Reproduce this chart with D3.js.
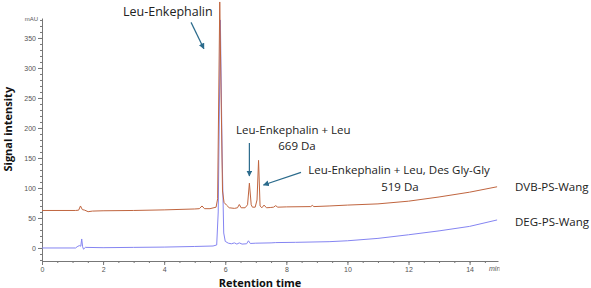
<!DOCTYPE html>
<html>
<head>
<meta charset="utf-8">
<script src="https://cdn.jsdelivr.net/npm/d3@7"></script>
<style>
  body { margin: 0; background: #fff; }
  svg { display: block; }
  .tick text { font-family: "Liberation Sans", Arial, sans-serif; font-size: 7px; fill: #555; }
  .axis path, .axis line { stroke: #777; }
  .ann { font-family: "Open Sans", sans-serif; font-size: 11.5px; fill: #222; }
  .title { font-family: "Open Sans", sans-serif; font-size: 11px; font-weight: bold; fill: #111; }
</style>
</head>
<body>
<div id="chart"></div>
<script>
// chromatogram traces (time in min, signal in mAU)
var dvbTime   = [0, 1.1, 1.2, 1.26, 1.32, 1.4, 1.51, 1.65, 2, 3, 4, 5, 5.15, 5.24, 5.32, 5.5, 5.7, 5.75, 5.82, 5.88, 5.91, 5.96, 6.04, 6.13, 6.3, 6.4, 6.46, 6.52, 6.65, 6.73, 6.79, 6.85, 6.89, 6.98, 7.04, 7.09, 7.14, 7.2, 7.27, 7.35, 7.49, 7.58, 7.65, 7.72, 8, 8.8, 8.85, 8.9, 9.4, 10, 11, 12, 13, 14, 14.9];
var dvbSignal = [62.5, 62.5, 63, 70, 64, 63, 60.5, 61.5, 62, 62.5, 63.5, 65, 65.5, 70, 65.5, 65.5, 68, 82, 410, 200, 95, 76, 71.5, 67, 66, 67, 72.5, 67, 67, 72, 108, 72, 68, 68, 80, 146, 70, 67, 71.5, 67, 67.5, 68, 70.5, 68, 68.5, 69, 71, 69, 70, 71.5, 73.5, 78, 85, 93, 102];

var degTime   = [0, 1.1, 1.15, 1.22, 1.27, 1.3, 1.33, 1.36, 1.42, 2, 3, 4, 5, 5.6, 5.72, 5.77, 5.84, 5.9, 5.95, 6, 6.1, 6.2, 6.3, 6.38, 6.46, 6.55, 6.7, 6.76, 6.82, 7, 7.5, 7.65, 8.3, 9.4, 10, 11, 12, 13, 14, 14.9];
var degSignal = [0, 0, 2, 4, 3, 15, 2, -2, 1, 0.5, 1, 1.5, 2.5, 3.3, 5, 60, 380, 150, 25, 11, 8, 7, 8.5, 6.5, 8.5, 6.5, 7, 12, 7.5, 8, 8.5, 9, 9.4, 10.5, 12, 16, 22, 28.5, 36, 46.7];

var seriesNames = ['DVB-PS-Wang', 'DEG-PS-Wang'];
var xTicks = [0, 2, 4, 6, 8, 10, 12, 14];
var yTicks = [0, 50, 100, 150, 200, 250, 300, 350];

// annotations: [label, x(min), y(mAU)]
var annLabels = [
  ['Leu-Enkephalin', 4.12, 394],
  ['Leu-Enkephalin + Leu', 8.23, 196],
  ['669 Da', 8.35, 170],
  ['Leu-Enkephalin + Leu, Des Gly-Gly', 11.69, 130],
  ['519 Da', 11.72, 102]
];
// arrows: [x1, y1, x2, y2] in data units
var annArrows = [
  [4.88, 376, 5.30, 332],
  [6.79, 175, 6.79, 120],
  [8.48, 126, 7.25, 105]
];

var W = 591, H = 288;
var margins = { left: 42, right: 93, top: 18, bottom: 27 };

var svg = d3.select('#chart').append('svg')
  .attr('width', W).attr('height', H);

var x = d3.scaleLinear().domain([0, 14.93]).range([margins.left, W - margins.right]);
var y = d3.scaleLinear().domain([-21.7, 383.3]).range([H - margins.bottom, margins.top]);

// axes with minor ticks
var xMinor = d3.range(0, 14.93, 0.5);
var yMinor = d3.range(-20, 383, 10);

svg.append('g').attr('class', 'axis')
  .attr('transform', 'translate(0,' + (H - margins.bottom) + ')')
  .call(d3.axisBottom(x).tickValues(xMinor).tickSize(2).tickFormat(''))
  .call(function(g) { g.select('.domain').remove(); });
svg.append('g').attr('class', 'axis')
  .attr('transform', 'translate(0,' + (H - margins.bottom) + ')')
  .call(d3.axisBottom(x).tickValues(xTicks).tickSize(4).tickSizeOuter(0).tickPadding(2));

svg.append('g').attr('class', 'axis')
  .attr('transform', 'translate(' + margins.left + ',0)')
  .call(d3.axisLeft(y).tickValues(yMinor).tickSize(2).tickFormat(''))
  .call(function(g) { g.select('.domain').remove(); });
svg.append('g').attr('class', 'axis')
  .attr('transform', 'translate(' + margins.left + ',0)')
  .call(d3.axisLeft(y).tickValues(yTicks).tickSize(4).tickSizeOuter(0).tickPadding(2));

svg.append('text')
  .attr('x', margins.left - 4).attr('y', margins.top + 3)
  .attr('text-anchor', 'end')
  .style('font-family', 'Liberation Sans, Arial, sans-serif')
  .style('font-size', '6px').style('fill', '#555')
  .text('mAU');

svg.append('clipPath').attr('id', 'minclip')
  .append('rect').attr('x', 0).attr('y', 0).attr('width', W - margins.right + 1.5).attr('height', H);
svg.append('text')
  .attr('clip-path', 'url(#minclip)')
  .attr('x', W - margins.right - 9).attr('y', H - margins.bottom + 10)
  .style('font-family', 'Liberation Sans, Arial, sans-serif')
  .style('font-size', '7px').style('font-style', 'italic').style('fill', '#555')
  .text('min');

// traces
var line = d3.line()
  .x(function(d) { return x(d[0]); })
  .y(function(d) { return y(d[1]); });

var deg = degTime.map(function(t, i) { return [t, degSignal[i]]; });
var dvb = dvbTime.map(function(t, i) { return [t, dvbSignal[i]]; });

svg.append('path').datum(deg)
  .attr('fill', 'none').attr('stroke', '#8585f2').attr('stroke-width', 1)
  .attr('d', line);
svg.append('path').datum(dvb)
  .attr('fill', 'none').attr('stroke', '#c0653f').attr('stroke-width', 1)
  .attr('d', line);

// series labels
svg.append('text').attr('class', 'ann')
  .attr('x', W - margins.right + 17).attr('y', y(dvbSignal[dvbSignal.length - 1]))
  .attr('dy', '0.35em').text(seriesNames[0]);
svg.append('text').attr('class', 'ann')
  .attr('x', W - margins.right + 17).attr('y', y(degSignal[degSignal.length - 1]) + 2)
  .attr('dy', '0.35em').text(seriesNames[1]);

// axis titles
svg.append('text').attr('class', 'title')
  .attr('transform', 'translate(8,' + y(198) + ') rotate(-90)')
  .attr('text-anchor', 'middle').attr('dy', '0.35em')
  .text('Signal intensity');
svg.append('text').attr('class', 'title')
  .attr('x', 260).attr('y', H - 1.5)
  .attr('text-anchor', 'middle')
  .text('Retention time');

// annotations
svg.append('defs').append('marker')
  .attr('id', 'arr').attr('viewBox', '0 0 10 10')
  .attr('refX', 9).attr('refY', 5)
  .attr('markerWidth', 5).attr('markerHeight', 5)
  .attr('orient', 'auto')
  .append('path').attr('d', 'M0,0L10,5L0,10z').attr('fill', '#2b6b8c');

svg.selectAll('.arrow').data(annArrows).enter().append('line')
  .attr('class', 'arrow')
  .attr('x1', function(d) { return x(d[0]); })
  .attr('y1', function(d) { return y(d[1]); })
  .attr('x2', function(d) { return x(d[2]); })
  .attr('y2', function(d) { return y(d[3]); })
  .attr('stroke', '#2b6b8c').attr('stroke-width', 1.2)
  .attr('marker-end', 'url(#arr)');

svg.selectAll('.annlabel').data(annLabels).enter().append('text')
  .attr('class', 'ann annlabel')
  .attr('x', function(d) { return x(d[1]); })
  .attr('y', function(d) { return y(d[2]); })
  .attr('text-anchor', 'middle').attr('dy', '0.35em')
  .style('font-size', function(d, i) { return i === 0 ? '12.5px' : null; })
  .text(function(d) { return d[0]; });
</script>
</body>
</html>
